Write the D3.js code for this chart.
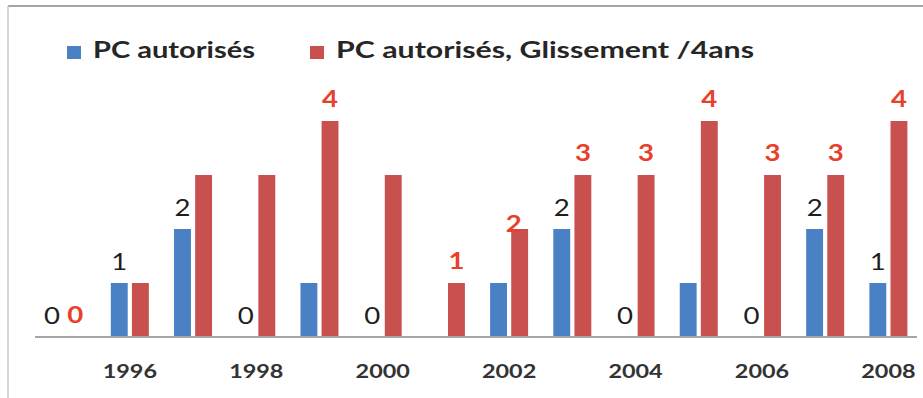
<!DOCTYPE html>
<html>
<head>
<meta charset="utf-8">
<script src="https://cdn.jsdelivr.net/npm/d3@7"></script>
<style>
  html, body { margin: 0; padding: 0; background: #ffffff; }
  svg { display: block; }
</style>
</head>
<body>
<svg id="chart" width="923" height="398"></svg>
<script>
// ---- data ----
const years = [1995, 1996, 1997, 1998, 1999, 2000, 2001, 2002, 2003, 2004, 2005, 2006, 2007, 2008];
const tickYears = [1996, 1998, 2000, 2002, 2004, 2006, 2008];
const seriesNames = ["PC autorisés", "PC autorisés, Glissement /4ans"];
const pcAutorises = [0, 1, 2, 0, 1, 0, 0, 1, 2, 0, 1, 0, 2, 1];
const pcGlissement = [0, 1, 3, 3, 4, 3, 1, 2, 3, 3, 4, 3, 3, 4];
const pcAutorisesLabels = ["0", "1", "2", "0", null, "0", null, null, "2", "0", null, "0", "2", "1"];
const pcGlissementLabels = ["0", null, null, null, "4", null, "1", "2", "3", "3", "4", "3", "3", "4"];

// ---- layout / style ----
const W = 923, H = 398;
const colors = ["#4a80c4", "#c8504e"];
const labelColors = ["#1e1e1e", "#e8402a"];
const stretch = 1.2;
const fontFam = "Lato, 'Open Sans', sans-serif";
const nudge = { "1995-0": [-4, 0], "1995-1": [-2, 0], "2002-1": [-6, 17] };
const legendX = [67, 310];
const legendTextW = [162, 418];

const svg = d3.select("#chart");

// frame
svg.append("line").attr("x1", 8).attr("x2", W).attr("y1", 6).attr("y2", 6)
  .attr("stroke", "#a4a4a4").attr("stroke-width", 2);
svg.append("line").attr("x1", 8).attr("x2", 8).attr("y1", 6).attr("y2", H)
  .attr("stroke", "#c8c8c8").attr("stroke-width", 1.5);

const x0 = d3.scaleBand().domain(years).range([35, 920]).padding(0);
const bw = x0.bandwidth();
const x1 = d3.scaleBand().domain([0, 1]).range([bw / 2 - 19, bw / 2 + 19]).paddingInner(0.2);
const y = d3.scaleLinear().domain([0, 4]).range([337, 121]);

const seriesVals = [pcAutorises, pcGlissement];
const seriesLabels = [pcAutorisesLabels, pcGlissementLabels];

function stretchedText(g, x, yy, txt, opts) {
  return g.append("text")
    .attr("transform", `translate(${x},${yy}) scale(${stretch},1)`)
    .attr("text-anchor", opts.anchor || "middle")
    .attr("font-family", fontFam)
    .attr("font-size", opts.size)
    .attr("font-weight", opts.weight || "normal")
    .attr("fill", opts.fill)
    .text(txt);
}

// bars
seriesVals.forEach((vals, s) => {
  svg.append("g").selectAll("rect")
    .data(years.map((yr, i) => ({ yr, v: vals[i] })))
    .join("rect")
    .attr("x", d => x0(d.yr) + x1(s))
    .attr("width", x1.bandwidth())
    .attr("y", d => y(d.v))
    .attr("height", d => y(0) - y(d.v))
    .attr("fill", colors[s]);
});

// axis line
svg.append("line").attr("x1", 35).attr("x2", 917).attr("y1", y(0)).attr("y2", y(0))
  .attr("stroke", "#a6a6a6").attr("stroke-width", 2);

// x-axis labels
const xAxisG = svg.append("g");
tickYears.forEach(yr => {
  stretchedText(xAxisG, x0(yr) + bw / 2, 378, String(yr),
    { size: 19.5, weight: "bold", fill: "#333333" });
});

// value labels
const labG = svg.append("g");
seriesLabels.forEach((labs, s) => {
  years.forEach((yr, i) => {
    const t = labs[i];
    if (t === null) return;
    const nd = nudge[yr + "-" + s] || [0, 0];
    const cx = x0(yr) + x1(s) + x1.bandwidth() / 2 + nd[0];
    const by = y(seriesVals[s][i]) - (s === 0 ? 13 : 14) + nd[1];
    stretchedText(labG, cx, by, t,
      { size: 23, weight: s === 1 ? "bold" : "normal", fill: labelColors[s] });
  });
});

// legend
const legG = svg.append("g");
seriesNames.forEach((name, s) => {
  legG.append("rect").attr("x", legendX[s]).attr("y", 46).attr("width", 14).attr("height", 13)
    .attr("fill", colors[s]);
  legG.append("text")
    .attr("x", legendX[s] + 26).attr("y", 57.5)
    .attr("font-family", fontFam)
    .attr("font-size", 23)
    .attr("font-weight", "bold")
    .attr("fill", "#262626")
    .attr("textLength", legendTextW[s])
    .attr("lengthAdjust", "spacingAndGlyphs")
    .text(name);
});
</script>
</body>
</html>
